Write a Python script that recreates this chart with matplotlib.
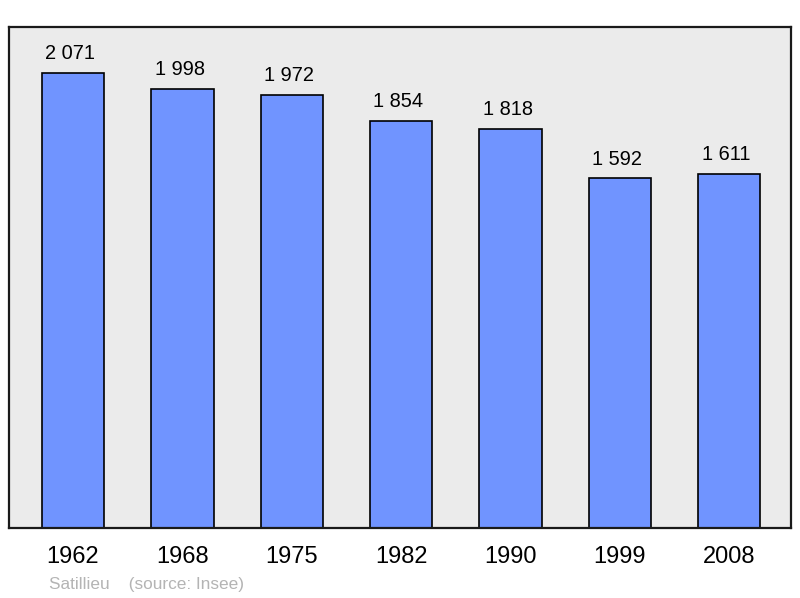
import matplotlib.pyplot as plt

plt.rcParams['font.family'] = ['Liberation Sans', 'DejaVu Sans']

years = ['1962', '1968', '1975', '1982', '1990', '1999', '2008']
population = [2071, 1998, 1972, 1854, 1818, 1592, 1611]
labels = ['2 071', '1 998', '1 972', '1 854', '1 818', '1 592', '1 611']

fig = plt.figure(figsize=(8, 5.98), dpi=100)
ax = fig.add_axes([9 / 800, 70 / 598, 782 / 800, 501 / 598])
ax.set_facecolor('#ebebeb')

x = range(len(years))
ax.bar(x, population, width=0.57, color='#7094ff', edgecolor='black', linewidth=1.2, zorder=2)

for i, (v, lab) in enumerate(zip(population, labels)):
    ax.annotate(lab, (i, v), xytext=(-2, 7), textcoords='offset points',
                ha='center', va='bottom', fontsize=14.4)

ax.set_xlim(-0.585, 6.565)
ax.set_ylim(0, 2281)
ax.set_xticks(list(x))
ax.set_xticklabels(years, fontsize=17)
ax.tick_params(axis='x', length=0, pad=13)
ax.set_yticks([])
for s in ax.spines.values():
    s.set_linewidth(1.6)
    s.set_color('#1a1a1a')

fig.text(49 / 800, 1 - 584 / 598, 'Satillieu    (source: Insee)', fontsize=12.4,
         color='#b4b4b4', va='center', ha='left')

fig.savefig('out.png', dpi=100)
